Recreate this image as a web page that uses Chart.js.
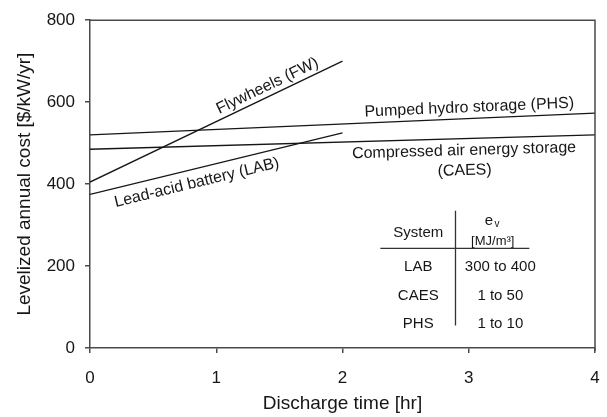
<!DOCTYPE html>
<html>
<head>
<meta charset="utf-8">
<script src="https://cdn.jsdelivr.net/npm/chart.js@4.4.1/dist/chart.umd.min.js"></script>
<style>
  html, body { margin:0; padding:0; background:#fff; }
  #wrap { width:607px; height:417px; }
</style>
</head>
<body>
<div id="wrap"><canvas id="chart" width="607" height="417"></canvas></div>
<script>
// data (discharge time in hr, cost in $/kW/yr)
const fwTimes = [0, 2];
const fwCosts = [405, 700];
const labTimes = [0, 2];
const labCosts = [375, 525];
const phsTimes = [0, 4];
const phsCosts = [520, 573];
const caesTimes = [0, 4];
const caesCosts = [485, 520];

const xTicks = [0, 1, 2, 3, 4];
const yTicks = [0, 200, 400, 600, 800];

// inset table
const tableSystems = ['LAB', 'CAES', 'PHS'];
const tableEv = ['300 to 400', '1 to 50', '1 to 10'];

const FONT = '"Liberation Sans", Arial, sans-serif';
const INK = '#161616';
const AXIS = '#4a4a4a';

function pts(xs, ys){ return xs.map((x, i) => ({ x, y: ys[i] })); }

function lineSet(label, xs, ys){
  return {
    label,
    data: pts(xs, ys),
    borderColor: INK,
    borderWidth: 1.3,
    pointRadius: 0,
    fill: false,
    tension: 0
  };
}

// labels placed along each line: t = fraction along the segment, side = above/below
const lineLabels = [
  { ds: 0, text: ['Flywheels (FW)'], t: 0.72, side: 'above', gap: 2 },
  { ds: 1, text: ['Lead-acid battery (LAB)'], t: 0.41, side: 'below', gap: 6 },
  { ds: 2, text: ['Pumped hydro storage (PHS)'], t: 0.752, side: 'above', gap: 3 },
  { ds: 3, text: ['Compressed air energy storage', '(CAES)'], t: 0.74, side: 'below', gap: 4 }
];

const annotate = {
  id: 'annotate',
  afterDraw(chart){
    const { ctx, chartArea: a, scales: { x, y } } = chart;
    ctx.save();

    // top and right frame
    ctx.strokeStyle = AXIS;
    ctx.lineWidth = 1.5;
    ctx.beginPath();
    ctx.moveTo(a.left, a.top);
    ctx.lineTo(a.right, a.top);
    ctx.lineTo(a.right, a.bottom + 3);
    ctx.stroke();

    // line labels
    ctx.fillStyle = INK;
    ctx.font = '16px ' + FONT;
    ctx.textAlign = 'center';
    lineLabels.forEach(l => {
      const d = chart.data.datasets[l.ds].data;
      const x0 = x.getPixelForValue(d[0].x), y0 = y.getPixelForValue(d[0].y);
      const x1 = x.getPixelForValue(d[1].x), y1 = y.getPixelForValue(d[1].y);
      const ang = Math.atan2(y1 - y0, x1 - x0);
      ctx.save();
      ctx.translate(x0 + l.t * (x1 - x0), y0 + l.t * (y1 - y0));
      ctx.rotate(ang);
      if (l.side === 'above') {
        ctx.textBaseline = 'bottom';
        ctx.fillText(l.text[0], 0, -l.gap);
      } else {
        ctx.textBaseline = 'top';
        l.text.forEach((s, i) => ctx.fillText(s, 0, l.gap + i * 20));
      }
      ctx.restore();
    });

    // inset table (positions in axis units)
    const px = v => x.getPixelForValue(v);
    const py = v => y.getPixelForValue(v);
    const col1 = px(2.60), col2 = px(3.25), sep = px(2.895);

    ctx.strokeStyle = '#333';
    ctx.lineWidth = 1.3;
    ctx.beginPath();
    ctx.moveTo(sep, py(335));
    ctx.lineTo(sep, py(55));
    ctx.moveTo(px(2.30), py(243));
    ctx.lineTo(px(3.48), py(243));
    ctx.stroke();

    ctx.font = '15px ' + FONT;
    ctx.textBaseline = 'middle';
    ctx.textAlign = 'center';
    ctx.fillText('System', col1, py(280));
    // e with subscript v
    ctx.fillText('e', px(3.16), py(311));
    ctx.font = '10px ' + FONT;
    ctx.fillText('v', px(3.16) + 8, py(311) + 4);
    ctx.font = '13px ' + FONT;
    ctx.fillText('[MJ/m³]', px(3.19), py(261));

    ctx.font = '15px ' + FONT;
    const rowVals = [199, 127, 60];
    tableSystems.forEach((s, i) => {
      ctx.fillText(s, col1, py(rowVals[i]));
      ctx.fillText(tableEv[i], col2, py(rowVals[i]));
    });

    ctx.restore();
  }
};

new Chart(document.getElementById('chart'), {
  type: 'line',
  data: {
    datasets: [
      lineSet('Flywheels (FW)', fwTimes, fwCosts),
      lineSet('Lead-acid battery (LAB)', labTimes, labCosts),
      lineSet('Pumped hydro storage (PHS)', phsTimes, phsCosts),
      lineSet('Compressed air energy storage (CAES)', caesTimes, caesCosts)
    ]
  },
  options: {
    responsive: false,
    animation: false,
    layout: { padding: { top: 14, right: 12, left: 0, bottom: 0 } },
    plugins: { legend: { display: false }, tooltip: { enabled: false } },
    scales: {
      x: {
        type: 'linear',
        min: xTicks[0],
        max: xTicks[xTicks.length - 1],
        afterBuildTicks: s => { s.ticks = xTicks.map(v => ({ value: v })); },
        afterFit: s => { s.height = 69; s.paddingRight = 0; },
        ticks: { color: INK, font: { family: FONT, size: 17 }, padding: 15, maxRotation: 0 },
        grid: { drawOnChartArea: false, drawTicks: true, tickLength: 5, color: AXIS, lineWidth: 1.5 },
        border: { color: AXIS, width: 1.5 },
        title: { display: true, text: 'Discharge time [hr]', color: INK, font: { family: FONT, size: 19 }, padding: { top: 0, bottom: 2 } }
      },
      y: {
        min: yTicks[0],
        max: yTicks[yTicks.length - 1],
        afterBuildTicks: s => { s.ticks = yTicks.map(v => ({ value: v })); },
        afterFit: s => { s.width = 90; },
        ticks: { color: INK, font: { family: FONT, size: 17 }, padding: 10 },
        grid: { drawOnChartArea: false, drawTicks: true, tickLength: 5, color: AXIS, lineWidth: 1.5 },
        border: { color: AXIS, width: 1.5 },
        title: { display: true, text: 'Levelized annual cost [$/kW/yr]', color: INK, font: { family: FONT, size: 19 }, padding: { top: 13, bottom: 0 } }
      }
    }
  },
  plugins: [annotate]
});
</script>
</body>
</html>
